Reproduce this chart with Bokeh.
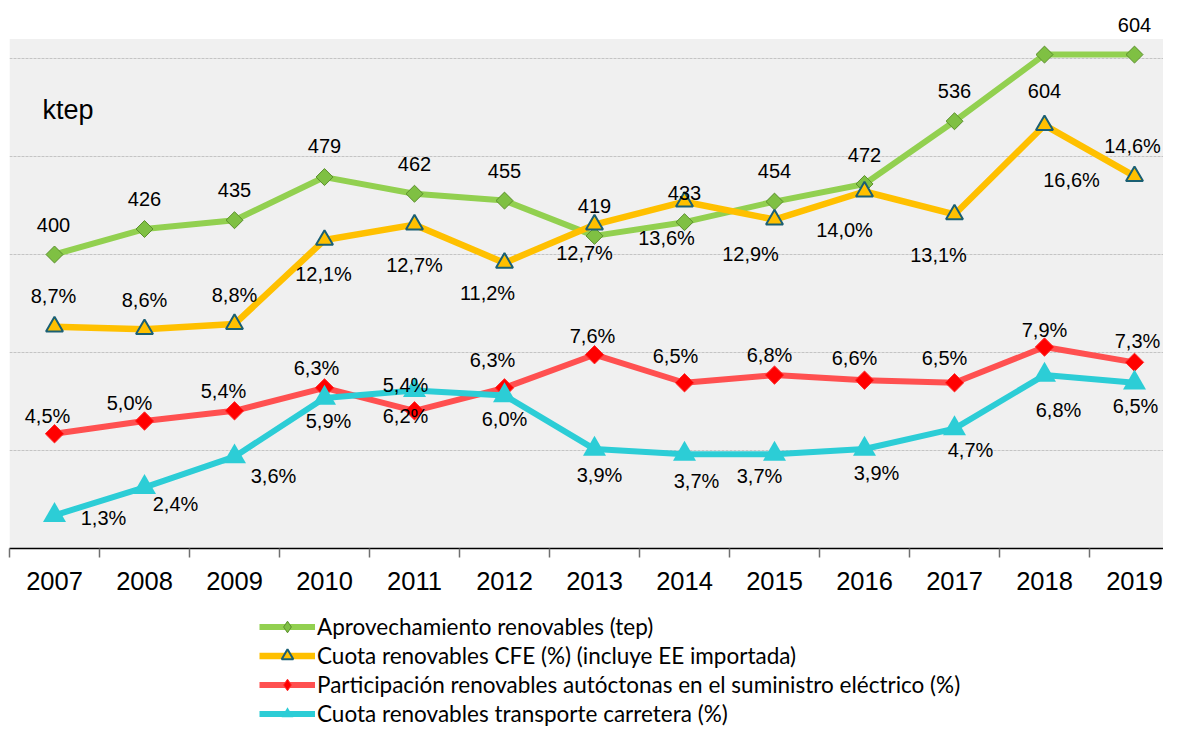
import numpy as np
from bokeh.plotting import figure
from bokeh.layouts import column
from bokeh.models import (Range1d, FixedTicker, BoxAnnotation, Legend, LegendItem,
                          Label, ColumnDataSource)
from bokeh.core.properties import value
from bokeh.embed import file_html
from bokeh.resources import INLINE

# ---------------- data ----------------
years = [2007, 2008, 2009, 2010, 2011, 2012, 2013, 2014, 2015, 2016, 2017, 2018, 2019]
aprovechamiento = [400, 426, 435, 479, 462, 455, 419, 433, 454, 472, 536, 604, 604]
cuota_cfe = [8.7, 8.6, 8.8, 12.1, 12.7, 11.2, 12.7, 13.6, 12.9, 14.0, 13.1, 16.6, 14.6]
participacion = [4.5, 5.0, 5.4, 6.3, 5.4, 6.3, 7.6, 6.5, 6.8, 6.6, 6.5, 7.9, 7.3]
transporte = [1.3, 2.4, 3.6, 5.9, 6.2, 6.0, 3.9, 3.7, 3.7, 3.9, 4.7, 6.8, 6.5]

series_names = [
    "Aprovechamiento renovables (tep)",
    "Cuota renovables CFE (%) (incluye EE importada)",
    "Participación renovables autóctonas en el suministro eléctrico (%)",
    "Cuota renovables transporte carretera (%)",
]
unit_label = "ktep"

# ---------------- label placement (styles, screen px) ----------------
green_dx = [-1, 0, 0, 0, 0, 0, 0, 0, 0, 0, 0, 0, 0]
green_dy = [-30, -30, -30, -31, -30, -30, -30, -29, -31, -29, -30, 36, -30]
yellow_dx = [-1, 0, 0, -1, 0, -17, -10, -18, -24, -20, -16, 27, -2]
yellow_dy = [-31, -29, -29, 34, 40, 30, 28, 36, 34, 38, 41, 55, -30]
red_dx = [-7, -15, -11, -8, -9, -12, -2, -9, -5, -10, -10, 0, 3]
red_dy = [-18, -18, -20, -20, -26, -28, -19, -27, -20, -22, -25, -17, -21]
cyan_dx = [49, 31, 39, 4, -9, 0, 5, 12, -15, 12, 16, 14, 1]
cyan_dy = [3, 17, 19, 23, 26, 23, 26, 27, 22, 24, 21, 35, 23]


def pct(v):
    return ("%.1f%%" % v).replace(".", ",")


PX_PER_CAT = 90.0
LEFT = 9
FIG_W = 1163
MAIN_H = 600
LEG_H = 128
FRAME_W = FIG_W - LEFT
FRAME_H = 548

p = figure(width=FIG_W, height=MAIN_H, output_backend="svg", toolbar_location=None,
           x_range=Range1d(years[0] - 0.5, years[0] - 0.5 + FRAME_W / PX_PER_CAT),
           y_range=Range1d(100, 100 + FRAME_H / 0.98),
           min_border_left=LEFT, min_border_right=0, min_border_top=0,
           min_border_bottom=MAIN_H - FRAME_H,
           y_axis_location=None, outline_line_color=None,
           background_fill_color="white", border_fill_color="white")
p.extra_y_ranges = {"pct": Range1d(0, FRAME_H / 25.5)}

# plot-area background
p.add_layout(BoxAnnotation(bottom=100, top=620, fill_color="#f0f0f0", fill_alpha=1,
                           line_color=None, level="image"))

# grid
p.xgrid.visible = False
p.ygrid.ticker = FixedTicker(ticks=[200, 300, 400, 500, 600])
p.ygrid.grid_line_color = "#c4c4c4"
p.ygrid.grid_line_dash = "3 1"
p.ygrid.grid_line_width = 1

# x axis
ax = p.xaxis[0]
ax.ticker = FixedTicker(ticks=years, minor_ticks=[y - 0.5 for y in years] + [years[-1] + 0.5])
ax.major_tick_line_color = None
ax.major_tick_out = 0
ax.major_tick_in = 0
ax.minor_tick_out = 9
ax.minor_tick_in = 0
ax.minor_tick_line_color = "#6f6f6f"
ax.minor_tick_line_width = 1.5
ax.axis_line_color = "black"
ax.axis_line_width = 1.5
ax.major_label_text_font = "Liberation Sans"
ax.major_label_text_font_size = "25.5px"
ax.major_label_text_color = "black"
ax.major_label_standoff = 14

# ---------------- series styles ----------------
styles = [
    dict(line=dict(line_color="#92d050", line_width=6),
         pts=dict(marker="square", angle=np.pi / 4, size=12, fill_color="#7fc043",
                  line_color="#5b8f2c", line_width=1)),
    dict(line=dict(line_color="#ffc000", line_width=6.5),
         pts=dict(marker="triangle", size=17, fill_color="#ffc000",
                  line_color="#1a5f73", line_width=2)),
    dict(line=dict(line_color="#ff5050", line_width=6),
         pts=dict(marker="square", angle=np.pi / 4, size=13, fill_color="#ff0000",
                  line_color="#ff2a2a", line_width=1)),
    dict(line=dict(line_color="#2ccdd6", line_width=6),
         pts=dict(marker="triangle", size=23, fill_color="#2ccdd6", line_color=None)),
]
series_vals = [aprovechamiento, cuota_cfe, participacion, transporte]
ranges = [None, "pct", "pct", "pct"]

for vals, st, rng in zip(series_vals, styles, ranges):
    kw = dict(y_range_name=rng) if rng else {}
    p.line(years, vals, **st["line"], **kw)
    p.scatter(years, vals, **st["pts"], **kw)

# ---------------- data labels ----------------
def add_labels(vals, texts, dx, dy, rng=None):
    src = ColumnDataSource(dict(x=years, y=vals, t=texts, dx=dx, dy=dy))
    kw = dict(y_range_name=rng) if rng else {}
    p.text(x="x", y="y", text="t", x_offset="dx", y_offset="dy", source=src,
           text_font=value("Liberation Sans"), text_font_size="20px", text_color="black",
           text_align="center", text_baseline="middle", **kw)


add_labels(aprovechamiento, [str(v) for v in aprovechamiento], green_dx, green_dy)
add_labels(cuota_cfe, [pct(v) for v in cuota_cfe], yellow_dx, yellow_dy, "pct")
add_labels(participacion, [pct(v) for v in participacion], red_dx, red_dy, "pct")
add_labels(transporte, [pct(v) for v in transporte], cyan_dx, cyan_dy, "pct")

p.add_layout(Label(x=33, y=439, x_units="screen", y_units="screen", text=unit_label,
                   text_font="Liberation Sans", text_font_size="27px", text_color="black",
                   text_baseline="middle", text_align="left"))

# ---------------- legend (separate strip below the chart) ----------------
# The strip's ranges keep the series themselves out of view; only the legend
# glyphs (line + marker) are drawn there.
q = figure(width=FIG_W, height=LEG_H, output_backend="svg", toolbar_location=None,
           x_range=Range1d(0, 1), y_range=Range1d(0, 1),
           min_border_left=0, min_border_right=0, min_border_top=0, min_border_bottom=0,
           x_axis_location=None, y_axis_location=None, outline_line_color=None,
           background_fill_color="white", border_fill_color="white")
q.grid.visible = False

legend_markers = ["diamond", "triangle", "diamond", "triangle"]
items = []
for name, vals, st, mk in zip(series_names, series_vals, styles, legend_markers):
    lr = q.line(years, vals, **st["line"])
    pts = dict(st["pts"])
    pts.pop("angle", None)
    pts["marker"] = mk
    sr = q.scatter(years, vals, **pts)
    items.append(LegendItem(label=name, renderers=[lr, sr]))

legend = Legend(items=items, location=(250, 0))
legend.label_text_font = "Lato"
legend.label_text_font_size = "22.5px"
legend.label_text_color = "black"
legend.glyph_width = 56
legend.glyph_height = 29
legend.label_height = 29
legend.label_standoff = 2
legend.spacing = 0
legend.padding = 0
legend.margin = 0
legend.border_line_color = None
legend.background_fill_alpha = 0
q.add_layout(legend)

layout = column(p, q, spacing=0)
open("out.html", "w").write(file_html(layout, INLINE))
